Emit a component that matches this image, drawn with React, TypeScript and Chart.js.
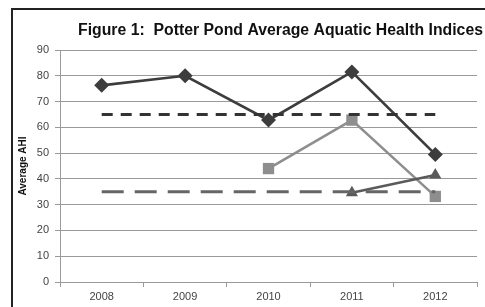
import React, { useEffect, useRef } from "react";
import { Chart, registerables } from "chart.js";

Chart.register(...registerables);

const years = ["2008", "2009", "2010", "2011", "2012"];
const seriesDiamond = [76.3, 80, 62.8, 81.5, 49.5];
const seriesSquare = [null, null, 44, 62.8, 33.2];
const seriesTriangle = [null, null, null, 34.6, 41.5];
const upperThreshold = [65, 65, 65, 65, 65];
const lowerThreshold = [35, 35, 35, 35, 35];
const yTicks = [0, 10, 20, 30, 40, 50, 60, 70, 80, 90];
const titleText = "Figure 1:  Potter Pond Average Aquatic Health Indices";

const titlePlugin = {
  id: "customTitle",
  afterDraw(chart: any) {
    const ctx = chart.ctx;
    ctx.save();
    ctx.font = "bold 15.8px 'Liberation Sans'";
    ctx.fillStyle = "#111";
    ctx.textAlign = "left";
    ctx.textBaseline = "middle";
    ctx.fillText(titleText, 78, 31);
    ctx.restore();
  },
};

export default function App() {
  const ref = useRef<HTMLCanvasElement | null>(null);
  useEffect(() => {
    if (!ref.current) return;
    const chart = new Chart(ref.current, {
      type: "line",
      data: {
        labels: years,
        datasets: [
          {
            label: "Upper",
            data: upperThreshold,
            borderColor: "#333333",
            borderWidth: 3,
            borderDash: [11, 8],
            pointRadius: 0,
            fill: false,
            order: 1,
          },
          {
            label: "Lower",
            data: lowerThreshold,
            borderColor: "#666666",
            borderWidth: 3,
            borderDash: [22, 11],
            pointRadius: 0,
            fill: false,
            order: 1,
          },
          {
            label: "Series 3",
            data: seriesTriangle,
            borderColor: "#5a5a5a",
            backgroundColor: "#5a5a5a",
            borderWidth: 2.5,
            pointStyle: "triangle",
            pointRadius: 7,
            pointBorderWidth: 0,
            order: 2,
          },
          {
            label: "Series 2",
            data: seriesSquare,
            borderColor: "#8e8e8e",
            backgroundColor: "#8e8e8e",
            borderWidth: 2.5,
            pointStyle: "rect",
            pointRadius: 8,
            pointBorderWidth: 0,
            order: 3,
          },
          {
            label: "Series 1",
            data: seriesDiamond,
            borderColor: "#3d3d3d",
            backgroundColor: "#3d3d3d",
            borderWidth: 2.7,
            pointStyle: "rectRot",
            pointRadius: 7.5,
            pointBorderWidth: 0,
            order: 4,
          },
        ],
      },
      options: {
        animation: false,
        responsive: false,
        maintainAspectRatio: false,
        layout: { padding: { left: 13, right: 8, top: 50, bottom: 0 } },
        plugins: {
          legend: { display: false },
          title: { display: false },
          tooltip: { enabled: false },
        },
        scales: {
          x: {
            type: "category",
            offset: true,
            grid: {
              offset: true,
              drawOnChartArea: false,
              drawTicks: true,
              tickLength: 5,
              color: "#9a9a9a",
            },
            border: { display: true, color: "#9a9a9a", width: 1 },
            ticks: {
              color: "#444",
              font: { family: "'Liberation Sans'", size: 11 },
              padding: 3,
              maxRotation: 0,
            },
            afterFit: (scale: any) => {
              scale.height = 25;
            },
          },
          y: {
            min: 0,
            max: 90,
            afterBuildTicks: (scale: any) => {
              scale.ticks = yTicks.map((v) => ({ value: v }));
            },
            grid: {
              color: "#9a9a9a",
              lineWidth: 1,
              drawTicks: true,
              tickLength: 5,
            },
            border: { display: true, color: "#9a9a9a", width: 1 },
            ticks: {
              color: "#444",
              font: { family: "'Liberation Sans'", size: 11 },
              padding: 6,
            },
            title: {
              display: true,
              text: "Average AHI",
              color: "#111",
              font: { family: "'Liberation Sans'", size: 10, weight: "bold" },
              padding: { top: 4, bottom: 0 },
            },
            afterFit: (scale: any) => {
              scale.width = 47;
            },
          },
        },
      },
      plugins: [titlePlugin],
    });
    return () => chart.destroy();
  }, []);

  return (
    <div style={{ position: "fixed", left: 0, top: 0, width: 485, height: 307, background: "#fff", overflow: "hidden" }}>
      <canvas ref={ref} width={485} height={307} style={{ position: "absolute", left: 0, top: 0 }} />
      <div style={{ position: "absolute", left: 11, top: 8, width: 2, height: 299, background: "#222" }} />
      <div style={{ position: "absolute", left: 11, top: 8, width: 474, height: 2, background: "#222" }} />
    </div>
  );
}
